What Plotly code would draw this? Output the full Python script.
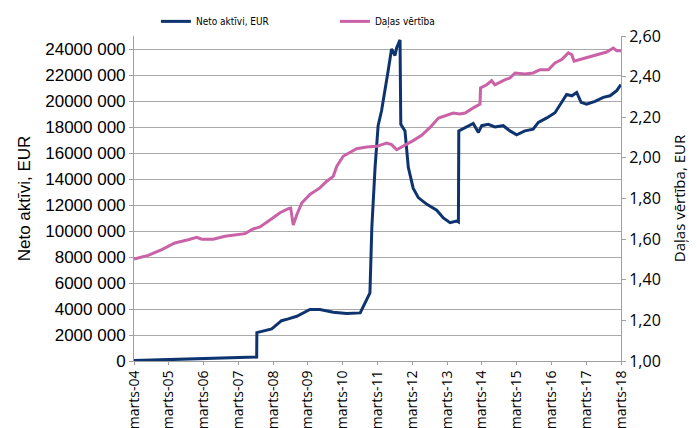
import plotly.graph_objects as go

# Neto aktīvi, EUR (millions)
nav_dates = ["2004-03-01", "2004-03-05", "2007-09-10", "2007-09-12", "2008-02-15", "2008-05-28",
             "2008-08-07", "2008-11-04", "2009-03-22", "2009-07-05", "2009-11-22", "2010-04-12",
             "2010-09-01", "2010-12-12", "2011-01-01", "2011-02-04", "2011-03-08", "2011-04-13",
             "2011-06-21", "2011-07-27", "2011-09-01", "2011-09-19", "2011-10-24", "2011-11-01",
             "2011-12-15", "2012-01-19", "2012-03-10", "2012-05-03", "2012-08-01", "2012-11-12",
             "2013-01-21", "2013-04-01", "2013-06-10", "2013-06-28", "2013-07-02", "2013-09-06",
             "2013-12-01", "2014-01-24", "2014-02-28", "2014-05-07", "2014-07-16", "2014-10-12",
             "2014-12-21", "2015-03-01", "2015-05-27", "2015-08-22", "2015-10-15", "2016-01-12",
             "2016-04-07", "2016-06-16", "2016-08-07", "2016-10-01", "2016-11-21", "2017-01-06",
             "2017-03-05", "2017-06-01", "2017-08-27", "2017-11-06", "2018-01-15", "2018-02-28"]
nav_mln = [0.02, 0.03, 0.30, 2.18, 2.47, 3.10,
           3.24, 3.44, 3.96, 3.96, 3.75, 3.65,
           3.70, 5.24, 10.25, 14.9, 18.1, 19.25,
           22.3, 24.0, 23.5, 24.1, 24.7, 18.2,
           17.7, 14.9, 13.3, 12.57, 12.05, 11.6,
           11.0, 10.64, 10.77, 10.7, 17.7, 17.96,
           18.27, 17.58, 18.1, 18.2, 18.0, 18.1,
           17.7, 17.4, 17.7, 17.83, 18.35, 18.7,
           19.1, 19.9, 20.5, 20.4, 20.66, 19.9,
           19.76, 19.97, 20.28, 20.4, 20.8, 21.26]

# Daļas vērtība
unit_dates = ["2004-03-01", "2004-07-28", "2004-12-18", "2005-05-04", "2005-09-22", "2005-12-19",
              "2006-02-10", "2006-06-10", "2006-10-12", "2007-03-01", "2007-05-10", "2007-08-04",
              "2007-10-15", "2008-02-15", "2008-05-12", "2008-08-07", "2008-09-01", "2008-09-28",
              "2008-11-04", "2008-12-26", "2009-03-22", "2009-07-05", "2009-09-15", "2009-11-22",
              "2009-12-28", "2010-03-06", "2010-05-15", "2010-07-25", "2010-11-08", "2011-02-22",
              "2011-06-05", "2011-07-27", "2011-09-19", "2011-12-15", "2012-03-10", "2012-06-07",
              "2012-09-03", "2012-12-01", "2013-02-27", "2013-05-04", "2013-07-13", "2013-09-06",
              "2013-12-01", "2014-02-10", "2014-02-15", "2014-04-21", "2014-06-12", "2014-07-16",
              "2014-11-01", "2014-12-21", "2015-02-12", "2015-05-27", "2015-08-22", "2015-11-01",
              "2016-01-28", "2016-04-07", "2016-06-16", "2016-08-25", "2016-10-01", "2016-10-24",
              "2016-12-25", "2017-03-22", "2017-07-05", "2017-10-01", "2017-12-10", "2018-01-15",
              "2018-02-28"]
unit_val = [1.502, 1.520, 1.548, 1.581, 1.597, 1.609,
            1.600, 1.600, 1.614, 1.625, 1.627, 1.650,
            1.660, 1.700, 1.730, 1.750, 1.753, 1.670,
            1.720, 1.778, 1.820, 1.852, 1.885, 1.909,
            1.958, 2.008, 2.027, 2.045, 2.054, 2.057,
            2.073, 2.065, 2.040, 2.062, 2.085, 2.111,
            2.150, 2.196, 2.210, 2.221, 2.216, 2.221,
            2.246, 2.265, 2.344, 2.360, 2.380, 2.360,
            2.385, 2.393, 2.418, 2.413, 2.418, 2.434,
            2.434, 2.467, 2.484, 2.517, 2.508, 2.476,
            2.484, 2.495, 2.511, 2.521, 2.541, 2.528,
            2.528]

x_ticks = ["%d-03-01" % y for y in range(2004, 2019)]
x_labels = ["marts-%02d" % (y % 100) for y in range(2004, 2019)]
left_ticks = list(range(0, 26000000, 2000000))
left_labels = ["0"] + ["%d 000" % (v // 1000) for v in left_ticks[1:]]
right_ticks = [1.0, 1.2, 1.4, 1.6, 1.8, 2.0, 2.2, 2.4, 2.6]
right_labels = [("%.2f" % v).replace(".", ",") for v in right_ticks]

NAVY = "#0e3470"
PINK = "#c962a6"
GRID = "#a9a9a9"
AXIS = "#a0a0a0"

fig = go.Figure()
fig.add_trace(go.Scatter(
    x=nav_dates, y=[v * 1e6 for v in nav_mln],
    name="Neto aktīvi, EUR", mode="lines",
    line=dict(color=NAVY, width=3),
    yaxis="y"
))
fig.add_trace(go.Scatter(
    x=unit_dates, y=unit_val,
    name="Daļas vērtība", mode="lines",
    line=dict(color=PINK, width=3),
    yaxis="y2"
))

# the page body adds an 8px margin, so the figure is 8px smaller than the window
fig.update_layout(
    width=689, height=420,
    margin=dict(l=126, r=76, t=28, b=67, autoexpand=False),
    plot_bgcolor="white", paper_bgcolor="white",
    font=dict(family="Liberation Sans, Arial", color="black"),
    showlegend=True,
    legend=dict(
        orientation="h", x=0.045, xanchor="left", y=1.045, yanchor="middle",
        font=dict(family="DejaVu Sans Condensed, Liberation Sans", size=10),
        itemwidth=30, entrywidth=134, entrywidthmode="pixels",
        bgcolor="rgba(0,0,0,0)"
    ),
    xaxis=dict(
        type="date", range=["2004-03-01", "2018-03-01"],
        tickmode="array", tickvals=x_ticks, ticktext=x_labels, tickangle=-90,
        tickfont=dict(family="Open Sans", size=14),
        showgrid=False, zeroline=False, automargin=False,
        showline=True, linecolor=AXIS, linewidth=1,
        ticks="outside", ticklen=3, tickcolor=AXIS
    ),
    yaxis=dict(
        side="left", range=[0, 25000000],
        tickmode="array", tickvals=left_ticks, ticktext=left_labels,
        tickfont=dict(size=17),
        showgrid=True, gridcolor=GRID, gridwidth=1, zeroline=False, automargin=False,
        showline=True, linecolor=AXIS, linewidth=1,
        ticks="outside", ticklen=4, tickcolor=AXIS,
        title=dict(text="Neto aktīvi, EUR", font=dict(size=17), standoff=10)
    ),
    yaxis2=dict(
        overlaying="y", side="right", range=[1.0, 2.6],
        tickmode="array", tickvals=right_ticks, ticktext=right_labels,
        tickfont=dict(family="Open Sans", size=16),
        showgrid=False, zeroline=False, automargin=False,
        showline=True, linecolor=AXIS, linewidth=1,
        ticks="outside", ticklen=4, tickcolor=AXIS,
        title=dict(text="Daļas vērtība, EUR", font=dict(family="Open Sans", size=15), standoff=14)
    )
)

fig.write_html("out.html")
